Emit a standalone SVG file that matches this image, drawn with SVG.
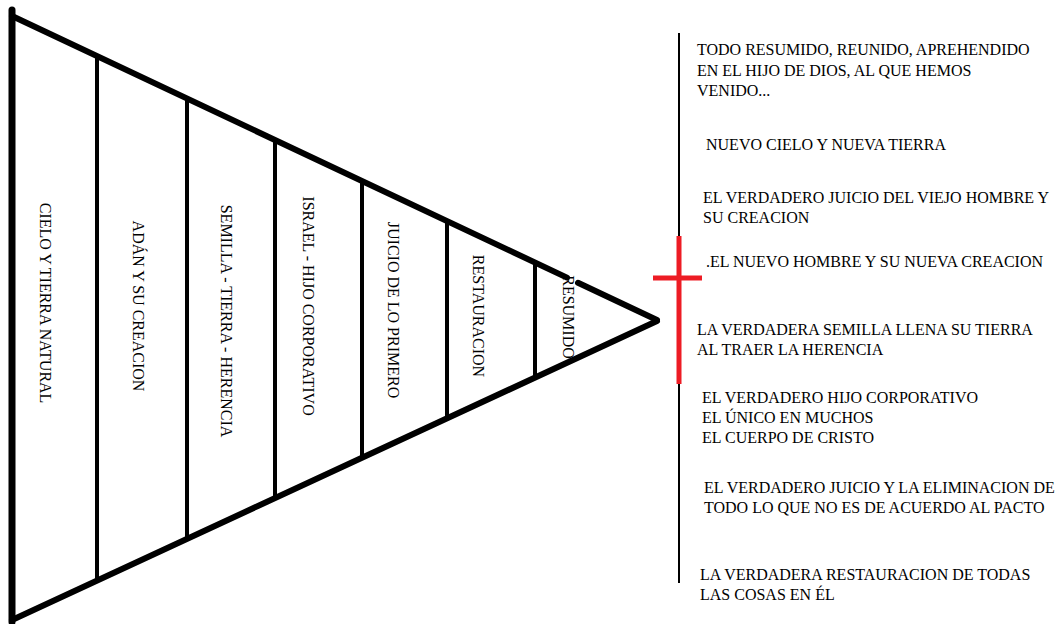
<svg xmlns="http://www.w3.org/2000/svg" width="1055" height="624" viewBox="0 0 1055 624">
<style>
.edge{stroke:#000;stroke-width:6;stroke-linecap:round;stroke-linejoin:round;fill:none}
.div{stroke:#000;stroke-width:4;fill:none}
.vt{font-family:"Liberation Serif","Times New Roman",serif;font-size:16px;fill:#000;text-anchor:middle}
.rt{font-family:"Liberation Serif","Times New Roman",serif;font-size:16px;fill:#000}
.red{stroke:#ED1C24;stroke-width:5;fill:none}
</style>
<rect width="1055" height="624" fill="#fff"/>
<g id="triangle">
  <line class="edge" x1="12" y1="10" x2="12" y2="622" style="stroke-width:7"/>
  <line class="edge" x1="12" y1="16" x2="567" y2="277.6"/>
  <line class="edge" x1="578" y1="282.8" x2="657" y2="320"/>
  <line class="edge" x1="12" y1="620" x2="657" y2="321"/>
</g>
<g id="connectors">
  <line class="div" x1="97" y1="56" x2="97" y2="581"/>
  <line class="div" x1="187" y1="98" x2="187" y2="539"/>
  <line class="div" x1="275" y1="140" x2="275" y2="498"/>
  <line class="div" x1="362" y1="181" x2="362" y2="458"/>
  <line class="div" x1="447" y1="221" x2="447" y2="419"/>
  <line class="div" x1="535" y1="262" x2="535" y2="378"/>
  <line x1="679" y1="33" x2="679" y2="583" stroke="#000" stroke-width="2"/>
  <line class="red" x1="679" y1="236" x2="679" y2="384"/>
  <line class="red" x1="653" y1="278" x2="702" y2="278"/>
</g>
<g id="s1"><text class="vt" transform="translate(40,303) rotate(90)">CIELO Y TIERRA NATURAL</text></g>
<g id="s2"><text class="vt" transform="translate(133,306) rotate(90)">ADÁN Y SU CREACION</text></g>
<g id="s3"><text class="vt" transform="translate(221,321) rotate(90)">SEMILLA - TIERRA - HERENCIA</text></g>
<g id="s4"><text class="vt" transform="translate(303,306) rotate(90)">ISRAEL - HIJO CORPORATIVO</text></g>
<g id="s5"><text class="vt" transform="translate(388,310) rotate(90)">JUICIO DE LO PRIMERO</text></g>
<g id="s6"><text class="vt" transform="translate(473,316) rotate(90)">RESTAURACION</text></g>
<g id="s7"><text class="vt" transform="translate(563,317) rotate(90)">RESUMIDO</text></g>
<g id="r1"><text class="rt" x="697" y="55">TODO RESUMIDO, REUNIDO, APREHENDIDO</text><text class="rt" x="697" y="76">EN EL HIJO DE DIOS, AL QUE HEMOS</text><text class="rt" x="697" y="96">VENIDO...</text></g>
<g id="r2"><text class="rt" x="706" y="150">NUEVO CIELO Y NUEVA TIERRA</text></g>
<g id="r3"><text class="rt" x="703" y="203">EL VERDADERO JUICIO DEL VIEJO HOMBRE Y</text><text class="rt" x="703" y="223">SU CREACION</text></g>
<g id="r4"><text class="rt" x="706" y="267">.EL NUEVO HOMBRE Y SU NUEVA CREACION</text></g>
<g id="r5"><text class="rt" x="697" y="335">LA VERDADERA SEMILLA LLENA SU TIERRA</text><text class="rt" x="697" y="355">AL TRAER LA HERENCIA</text></g>
<g id="r6"><text class="rt" x="702" y="403">EL VERDADERO HIJO CORPORATIVO</text><text class="rt" x="702" y="423">EL ÚNICO EN MUCHOS</text><text class="rt" x="702" y="443">EL CUERPO DE CRISTO</text></g>
<g id="r7"><text class="rt" x="704" y="493">EL VERDADERO JUICIO Y LA ELIMINACION DE</text><text class="rt" x="704" y="513">TODO LO QUE NO ES DE ACUERDO AL PACTO</text></g>
<g id="r8"><text class="rt" x="700" y="580">LA VERDADERA RESTAURACION DE TODAS</text><text class="rt" x="700" y="600">LAS COSAS EN ÉL</text></g>
</svg>
